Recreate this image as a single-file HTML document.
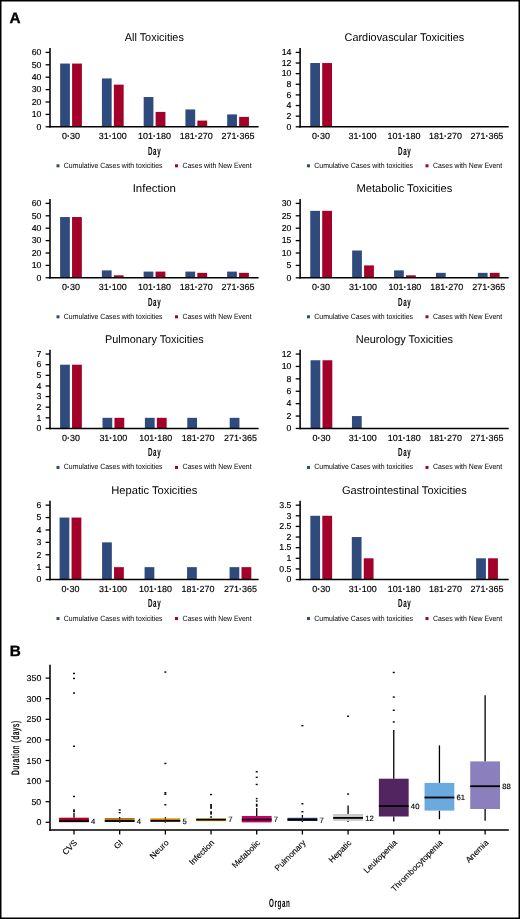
<!DOCTYPE html>
<html><head><meta charset="utf-8"><style>
html,body{margin:0;padding:0;background:#fff;}
body{width:520px;height:919px;overflow:hidden;}
svg{display:block;font-family:"Liberation Sans", sans-serif;will-change:transform;text-rendering:geometricPrecision;}
</style></head><body>
<svg width="520" height="919" viewBox="0 0 520 919">
<rect x="0" y="0" width="520" height="919" fill="#fff"/>
<text transform="translate(154.30,41.00) scale(0.974,1)" font-size="11.2" text-anchor="middle" font-weight="normal" fill="#000" >All Toxicities</text>
<rect x="60.15" y="63.56" width="9.75" height="63.24" fill="#2f4a7c"/>
<rect x="72.10" y="63.56" width="9.80" height="63.24" fill="#a3002a"/>
<text transform="translate(71.00,139.00) scale(1.010,1)" font-size="8.9" text-anchor="middle" font-weight="normal" fill="#000" stroke="#000" stroke-width="0.15">0<tspan font-weight="bold">&#183;</tspan>30</text>
<rect x="101.91" y="78.44" width="9.75" height="48.36" fill="#2f4a7c"/>
<rect x="113.86" y="84.64" width="9.80" height="42.16" fill="#a3002a"/>
<text transform="translate(112.76,139.00) scale(1.010,1)" font-size="8.9" text-anchor="middle" font-weight="normal" fill="#000" stroke="#000" stroke-width="0.15">31<tspan font-weight="bold">&#183;</tspan>100</text>
<rect x="143.67" y="97.04" width="9.75" height="29.76" fill="#2f4a7c"/>
<rect x="155.62" y="111.92" width="9.80" height="14.88" fill="#a3002a"/>
<text transform="translate(154.52,139.00) scale(1.010,1)" font-size="8.9" text-anchor="middle" font-weight="normal" fill="#000" stroke="#000" stroke-width="0.15">101<tspan font-weight="bold">&#183;</tspan>180</text>
<rect x="185.43" y="109.44" width="9.75" height="17.36" fill="#2f4a7c"/>
<rect x="197.38" y="120.60" width="9.80" height="6.20" fill="#a3002a"/>
<text transform="translate(196.28,139.00) scale(1.010,1)" font-size="8.9" text-anchor="middle" font-weight="normal" fill="#000" stroke="#000" stroke-width="0.15">181<tspan font-weight="bold">&#183;</tspan>270</text>
<rect x="227.19" y="114.40" width="9.75" height="12.40" fill="#2f4a7c"/>
<rect x="239.14" y="116.88" width="9.80" height="9.92" fill="#a3002a"/>
<text transform="translate(238.04,139.00) scale(1.010,1)" font-size="8.9" text-anchor="middle" font-weight="normal" fill="#000" stroke="#000" stroke-width="0.15">271<tspan font-weight="bold">&#183;</tspan>365</text>
<line x1="50.00" y1="48.00" x2="50.00" y2="127.58" stroke="#000" stroke-width="1.55"/>
<line x1="49.23" y1="126.80" x2="258.60" y2="126.80" stroke="#000" stroke-width="1.55"/>
<line x1="45.60" y1="126.80" x2="50.00" y2="126.80" stroke="#000" stroke-width="1.3"/>
<text transform="translate(41.40,129.60) scale(1.020,1)" font-size="8.6" text-anchor="end" font-weight="normal" fill="#000" stroke="#000" stroke-width="0.15">0</text>
<line x1="45.60" y1="114.40" x2="50.00" y2="114.40" stroke="#000" stroke-width="1.3"/>
<text transform="translate(41.40,117.20) scale(1.020,1)" font-size="8.6" text-anchor="end" font-weight="normal" fill="#000" stroke="#000" stroke-width="0.15">10</text>
<line x1="45.60" y1="102.00" x2="50.00" y2="102.00" stroke="#000" stroke-width="1.3"/>
<text transform="translate(41.40,104.80) scale(1.020,1)" font-size="8.6" text-anchor="end" font-weight="normal" fill="#000" stroke="#000" stroke-width="0.15">20</text>
<line x1="45.60" y1="89.60" x2="50.00" y2="89.60" stroke="#000" stroke-width="1.3"/>
<text transform="translate(41.40,92.40) scale(1.020,1)" font-size="8.6" text-anchor="end" font-weight="normal" fill="#000" stroke="#000" stroke-width="0.15">30</text>
<line x1="45.60" y1="77.20" x2="50.00" y2="77.20" stroke="#000" stroke-width="1.3"/>
<text transform="translate(41.40,80.00) scale(1.020,1)" font-size="8.6" text-anchor="end" font-weight="normal" fill="#000" stroke="#000" stroke-width="0.15">40</text>
<line x1="45.60" y1="64.80" x2="50.00" y2="64.80" stroke="#000" stroke-width="1.3"/>
<text transform="translate(41.40,67.60) scale(1.020,1)" font-size="8.6" text-anchor="end" font-weight="normal" fill="#000" stroke="#000" stroke-width="0.15">50</text>
<line x1="45.60" y1="52.40" x2="50.00" y2="52.40" stroke="#000" stroke-width="1.3"/>
<text transform="translate(41.40,55.20) scale(1.020,1)" font-size="8.6" text-anchor="end" font-weight="normal" fill="#000" stroke="#000" stroke-width="0.15">60</text>
<text transform="translate(154.60,154.60) scale(0.530,1)" font-size="11.8" text-anchor="middle" font-weight="bold" fill="#000" letter-spacing="1.1">Day</text>
<rect x="56.50" y="164.30" width="3.00" height="3.00" fill="#2f4a7c"/>
<text transform="translate(63.80,167.80) scale(0.910,1)" font-size="7.6" text-anchor="start" font-weight="normal" fill="#000" >Cumulative Cases with toxicities</text>
<rect x="175.00" y="164.30" width="3.00" height="3.00" fill="#a3002a"/>
<text transform="translate(182.50,167.80) scale(0.910,1)" font-size="7.6" text-anchor="start" font-weight="normal" fill="#000" >Cases with New Event</text>
<text transform="translate(404.40,41.00) scale(0.974,1)" font-size="11.2" text-anchor="middle" font-weight="normal" fill="#000" >Cardiovascular Toxicities</text>
<rect x="310.25" y="63.03" width="9.75" height="63.77" fill="#2f4a7c"/>
<rect x="322.20" y="63.03" width="9.80" height="63.77" fill="#a3002a"/>
<text transform="translate(321.10,139.00) scale(1.010,1)" font-size="8.9" text-anchor="middle" font-weight="normal" fill="#000" stroke="#000" stroke-width="0.15">0<tspan font-weight="bold">&#183;</tspan>30</text>
<text transform="translate(362.55,139.00) scale(1.010,1)" font-size="8.9" text-anchor="middle" font-weight="normal" fill="#000" stroke="#000" stroke-width="0.15">31<tspan font-weight="bold">&#183;</tspan>100</text>
<text transform="translate(404.00,139.00) scale(1.010,1)" font-size="8.9" text-anchor="middle" font-weight="normal" fill="#000" stroke="#000" stroke-width="0.15">101<tspan font-weight="bold">&#183;</tspan>180</text>
<text transform="translate(445.45,139.00) scale(1.010,1)" font-size="8.9" text-anchor="middle" font-weight="normal" fill="#000" stroke="#000" stroke-width="0.15">181<tspan font-weight="bold">&#183;</tspan>270</text>
<text transform="translate(486.90,139.00) scale(1.010,1)" font-size="8.9" text-anchor="middle" font-weight="normal" fill="#000" stroke="#000" stroke-width="0.15">271<tspan font-weight="bold">&#183;</tspan>365</text>
<line x1="300.10" y1="48.00" x2="300.10" y2="127.58" stroke="#000" stroke-width="1.55"/>
<line x1="299.33" y1="126.80" x2="508.70" y2="126.80" stroke="#000" stroke-width="1.55"/>
<line x1="295.70" y1="126.80" x2="300.10" y2="126.80" stroke="#000" stroke-width="1.3"/>
<text transform="translate(291.50,129.60) scale(1.020,1)" font-size="8.6" text-anchor="end" font-weight="normal" fill="#000" stroke="#000" stroke-width="0.15">0</text>
<line x1="295.70" y1="116.17" x2="300.10" y2="116.17" stroke="#000" stroke-width="1.3"/>
<text transform="translate(291.50,118.97) scale(1.020,1)" font-size="8.6" text-anchor="end" font-weight="normal" fill="#000" stroke="#000" stroke-width="0.15">2</text>
<line x1="295.70" y1="105.54" x2="300.10" y2="105.54" stroke="#000" stroke-width="1.3"/>
<text transform="translate(291.50,108.34) scale(1.020,1)" font-size="8.6" text-anchor="end" font-weight="normal" fill="#000" stroke="#000" stroke-width="0.15">4</text>
<line x1="295.70" y1="94.91" x2="300.10" y2="94.91" stroke="#000" stroke-width="1.3"/>
<text transform="translate(291.50,97.71) scale(1.020,1)" font-size="8.6" text-anchor="end" font-weight="normal" fill="#000" stroke="#000" stroke-width="0.15">6</text>
<line x1="295.70" y1="84.29" x2="300.10" y2="84.29" stroke="#000" stroke-width="1.3"/>
<text transform="translate(291.50,87.09) scale(1.020,1)" font-size="8.6" text-anchor="end" font-weight="normal" fill="#000" stroke="#000" stroke-width="0.15">8</text>
<line x1="295.70" y1="73.66" x2="300.10" y2="73.66" stroke="#000" stroke-width="1.3"/>
<text transform="translate(291.50,76.46) scale(1.020,1)" font-size="8.6" text-anchor="end" font-weight="normal" fill="#000" stroke="#000" stroke-width="0.15">10</text>
<line x1="295.70" y1="63.03" x2="300.10" y2="63.03" stroke="#000" stroke-width="1.3"/>
<text transform="translate(291.50,65.83) scale(1.020,1)" font-size="8.6" text-anchor="end" font-weight="normal" fill="#000" stroke="#000" stroke-width="0.15">12</text>
<line x1="295.70" y1="52.40" x2="300.10" y2="52.40" stroke="#000" stroke-width="1.3"/>
<text transform="translate(291.50,55.20) scale(1.020,1)" font-size="8.6" text-anchor="end" font-weight="normal" fill="#000" stroke="#000" stroke-width="0.15">14</text>
<text transform="translate(404.70,154.60) scale(0.530,1)" font-size="11.8" text-anchor="middle" font-weight="bold" fill="#000" letter-spacing="1.1">Day</text>
<rect x="307.00" y="164.30" width="3.00" height="3.00" fill="#2f4a7c"/>
<text transform="translate(314.30,167.80) scale(0.910,1)" font-size="7.6" text-anchor="start" font-weight="normal" fill="#000" >Cumulative Cases with toxicities</text>
<rect x="425.50" y="164.30" width="3.00" height="3.00" fill="#a3002a"/>
<text transform="translate(433.00,167.80) scale(0.910,1)" font-size="7.6" text-anchor="start" font-weight="normal" fill="#000" >Cases with New Event</text>
<text transform="translate(154.30,192.00) scale(1.022,1)" font-size="11.2" text-anchor="middle" font-weight="normal" fill="#000" >Infection</text>
<rect x="60.10" y="217.04" width="9.75" height="60.76" fill="#2f4a7c"/>
<rect x="72.05" y="217.04" width="9.80" height="60.76" fill="#a3002a"/>
<text transform="translate(70.95,290.00) scale(1.010,1)" font-size="8.9" text-anchor="middle" font-weight="normal" fill="#000" stroke="#000" stroke-width="0.15">0<tspan font-weight="bold">&#183;</tspan>30</text>
<rect x="101.86" y="270.36" width="9.75" height="7.44" fill="#2f4a7c"/>
<rect x="113.81" y="275.32" width="9.80" height="2.48" fill="#a3002a"/>
<text transform="translate(112.71,290.00) scale(1.010,1)" font-size="8.9" text-anchor="middle" font-weight="normal" fill="#000" stroke="#000" stroke-width="0.15">31<tspan font-weight="bold">&#183;</tspan>100</text>
<rect x="143.62" y="271.60" width="9.75" height="6.20" fill="#2f4a7c"/>
<rect x="155.57" y="271.60" width="9.80" height="6.20" fill="#a3002a"/>
<text transform="translate(154.47,290.00) scale(1.010,1)" font-size="8.9" text-anchor="middle" font-weight="normal" fill="#000" stroke="#000" stroke-width="0.15">101<tspan font-weight="bold">&#183;</tspan>180</text>
<rect x="185.38" y="271.60" width="9.75" height="6.20" fill="#2f4a7c"/>
<rect x="197.33" y="272.84" width="9.80" height="4.96" fill="#a3002a"/>
<text transform="translate(196.23,290.00) scale(1.010,1)" font-size="8.9" text-anchor="middle" font-weight="normal" fill="#000" stroke="#000" stroke-width="0.15">181<tspan font-weight="bold">&#183;</tspan>270</text>
<rect x="227.14" y="271.60" width="9.75" height="6.20" fill="#2f4a7c"/>
<rect x="239.09" y="272.84" width="9.80" height="4.96" fill="#a3002a"/>
<text transform="translate(237.99,290.00) scale(1.010,1)" font-size="8.9" text-anchor="middle" font-weight="normal" fill="#000" stroke="#000" stroke-width="0.15">271<tspan font-weight="bold">&#183;</tspan>365</text>
<line x1="50.00" y1="199.00" x2="50.00" y2="278.57" stroke="#000" stroke-width="1.55"/>
<line x1="49.23" y1="277.80" x2="258.60" y2="277.80" stroke="#000" stroke-width="1.55"/>
<line x1="45.60" y1="277.80" x2="50.00" y2="277.80" stroke="#000" stroke-width="1.3"/>
<text transform="translate(41.40,280.60) scale(1.020,1)" font-size="8.6" text-anchor="end" font-weight="normal" fill="#000" stroke="#000" stroke-width="0.15">0</text>
<line x1="45.60" y1="265.40" x2="50.00" y2="265.40" stroke="#000" stroke-width="1.3"/>
<text transform="translate(41.40,268.20) scale(1.020,1)" font-size="8.6" text-anchor="end" font-weight="normal" fill="#000" stroke="#000" stroke-width="0.15">10</text>
<line x1="45.60" y1="253.00" x2="50.00" y2="253.00" stroke="#000" stroke-width="1.3"/>
<text transform="translate(41.40,255.80) scale(1.020,1)" font-size="8.6" text-anchor="end" font-weight="normal" fill="#000" stroke="#000" stroke-width="0.15">20</text>
<line x1="45.60" y1="240.60" x2="50.00" y2="240.60" stroke="#000" stroke-width="1.3"/>
<text transform="translate(41.40,243.40) scale(1.020,1)" font-size="8.6" text-anchor="end" font-weight="normal" fill="#000" stroke="#000" stroke-width="0.15">30</text>
<line x1="45.60" y1="228.20" x2="50.00" y2="228.20" stroke="#000" stroke-width="1.3"/>
<text transform="translate(41.40,231.00) scale(1.020,1)" font-size="8.6" text-anchor="end" font-weight="normal" fill="#000" stroke="#000" stroke-width="0.15">40</text>
<line x1="45.60" y1="215.80" x2="50.00" y2="215.80" stroke="#000" stroke-width="1.3"/>
<text transform="translate(41.40,218.60) scale(1.020,1)" font-size="8.6" text-anchor="end" font-weight="normal" fill="#000" stroke="#000" stroke-width="0.15">50</text>
<line x1="45.60" y1="203.40" x2="50.00" y2="203.40" stroke="#000" stroke-width="1.3"/>
<text transform="translate(41.40,206.20) scale(1.020,1)" font-size="8.6" text-anchor="end" font-weight="normal" fill="#000" stroke="#000" stroke-width="0.15">60</text>
<text transform="translate(154.60,305.60) scale(0.530,1)" font-size="11.8" text-anchor="middle" font-weight="bold" fill="#000" letter-spacing="1.1">Day</text>
<rect x="56.50" y="315.30" width="3.00" height="3.00" fill="#2f4a7c"/>
<text transform="translate(63.80,318.80) scale(0.910,1)" font-size="7.6" text-anchor="start" font-weight="normal" fill="#000" >Cumulative Cases with toxicities</text>
<rect x="175.00" y="315.30" width="3.00" height="3.00" fill="#a3002a"/>
<text transform="translate(182.50,318.80) scale(0.910,1)" font-size="7.6" text-anchor="start" font-weight="normal" fill="#000" >Cases with New Event</text>
<text transform="translate(404.40,192.00) scale(0.996,1)" font-size="11.2" text-anchor="middle" font-weight="normal" fill="#000" >Metabolic Toxicities</text>
<rect x="310.25" y="210.84" width="9.75" height="66.96" fill="#2f4a7c"/>
<rect x="322.20" y="210.84" width="9.80" height="66.96" fill="#a3002a"/>
<text transform="translate(321.10,290.00) scale(1.010,1)" font-size="8.9" text-anchor="middle" font-weight="normal" fill="#000" stroke="#000" stroke-width="0.15">0<tspan font-weight="bold">&#183;</tspan>30</text>
<rect x="352.15" y="250.52" width="9.75" height="27.28" fill="#2f4a7c"/>
<rect x="364.10" y="265.40" width="9.80" height="12.40" fill="#a3002a"/>
<text transform="translate(363.00,290.00) scale(1.010,1)" font-size="8.9" text-anchor="middle" font-weight="normal" fill="#000" stroke="#000" stroke-width="0.15">31<tspan font-weight="bold">&#183;</tspan>100</text>
<rect x="394.05" y="270.36" width="9.75" height="7.44" fill="#2f4a7c"/>
<rect x="406.00" y="275.32" width="9.80" height="2.48" fill="#a3002a"/>
<text transform="translate(404.90,290.00) scale(1.010,1)" font-size="8.9" text-anchor="middle" font-weight="normal" fill="#000" stroke="#000" stroke-width="0.15">101<tspan font-weight="bold">&#183;</tspan>180</text>
<rect x="435.95" y="272.84" width="9.75" height="4.96" fill="#2f4a7c"/>
<text transform="translate(446.80,290.00) scale(1.010,1)" font-size="8.9" text-anchor="middle" font-weight="normal" fill="#000" stroke="#000" stroke-width="0.15">181<tspan font-weight="bold">&#183;</tspan>270</text>
<rect x="477.85" y="272.84" width="9.75" height="4.96" fill="#2f4a7c"/>
<rect x="489.80" y="272.84" width="9.80" height="4.96" fill="#a3002a"/>
<text transform="translate(488.70,290.00) scale(1.010,1)" font-size="8.9" text-anchor="middle" font-weight="normal" fill="#000" stroke="#000" stroke-width="0.15">271<tspan font-weight="bold">&#183;</tspan>365</text>
<line x1="300.10" y1="199.00" x2="300.10" y2="278.57" stroke="#000" stroke-width="1.55"/>
<line x1="299.33" y1="277.80" x2="508.70" y2="277.80" stroke="#000" stroke-width="1.55"/>
<line x1="295.70" y1="277.80" x2="300.10" y2="277.80" stroke="#000" stroke-width="1.3"/>
<text transform="translate(291.50,280.60) scale(1.020,1)" font-size="8.6" text-anchor="end" font-weight="normal" fill="#000" stroke="#000" stroke-width="0.15">0</text>
<line x1="295.70" y1="265.40" x2="300.10" y2="265.40" stroke="#000" stroke-width="1.3"/>
<text transform="translate(291.50,268.20) scale(1.020,1)" font-size="8.6" text-anchor="end" font-weight="normal" fill="#000" stroke="#000" stroke-width="0.15">5</text>
<line x1="295.70" y1="253.00" x2="300.10" y2="253.00" stroke="#000" stroke-width="1.3"/>
<text transform="translate(291.50,255.80) scale(1.020,1)" font-size="8.6" text-anchor="end" font-weight="normal" fill="#000" stroke="#000" stroke-width="0.15">10</text>
<line x1="295.70" y1="240.60" x2="300.10" y2="240.60" stroke="#000" stroke-width="1.3"/>
<text transform="translate(291.50,243.40) scale(1.020,1)" font-size="8.6" text-anchor="end" font-weight="normal" fill="#000" stroke="#000" stroke-width="0.15">15</text>
<line x1="295.70" y1="228.20" x2="300.10" y2="228.20" stroke="#000" stroke-width="1.3"/>
<text transform="translate(291.50,231.00) scale(1.020,1)" font-size="8.6" text-anchor="end" font-weight="normal" fill="#000" stroke="#000" stroke-width="0.15">20</text>
<line x1="295.70" y1="215.80" x2="300.10" y2="215.80" stroke="#000" stroke-width="1.3"/>
<text transform="translate(291.50,218.60) scale(1.020,1)" font-size="8.6" text-anchor="end" font-weight="normal" fill="#000" stroke="#000" stroke-width="0.15">25</text>
<line x1="295.70" y1="203.40" x2="300.10" y2="203.40" stroke="#000" stroke-width="1.3"/>
<text transform="translate(291.50,206.20) scale(1.020,1)" font-size="8.6" text-anchor="end" font-weight="normal" fill="#000" stroke="#000" stroke-width="0.15">30</text>
<text transform="translate(404.70,305.60) scale(0.530,1)" font-size="11.8" text-anchor="middle" font-weight="bold" fill="#000" letter-spacing="1.1">Day</text>
<rect x="307.00" y="315.30" width="3.00" height="3.00" fill="#2f4a7c"/>
<text transform="translate(314.30,318.80) scale(0.910,1)" font-size="7.6" text-anchor="start" font-weight="normal" fill="#000" >Cumulative Cases with toxicities</text>
<rect x="425.50" y="315.30" width="3.00" height="3.00" fill="#a3002a"/>
<text transform="translate(433.00,318.80) scale(0.910,1)" font-size="7.6" text-anchor="start" font-weight="normal" fill="#000" >Cases with New Event</text>
<text transform="translate(154.30,342.65) scale(0.970,1)" font-size="11.2" text-anchor="middle" font-weight="normal" fill="#000" >Pulmonary Toxicities</text>
<rect x="60.10" y="364.68" width="9.75" height="63.77" fill="#2f4a7c"/>
<rect x="72.05" y="364.68" width="9.80" height="63.77" fill="#a3002a"/>
<text transform="translate(70.95,440.65) scale(1.010,1)" font-size="8.9" text-anchor="middle" font-weight="normal" fill="#000" stroke="#000" stroke-width="0.15">0<tspan font-weight="bold">&#183;</tspan>30</text>
<rect x="102.50" y="417.82" width="9.75" height="10.63" fill="#2f4a7c"/>
<rect x="114.45" y="417.82" width="9.80" height="10.63" fill="#a3002a"/>
<text transform="translate(113.35,440.65) scale(1.010,1)" font-size="8.9" text-anchor="middle" font-weight="normal" fill="#000" stroke="#000" stroke-width="0.15">31<tspan font-weight="bold">&#183;</tspan>100</text>
<rect x="144.90" y="417.82" width="9.75" height="10.63" fill="#2f4a7c"/>
<rect x="156.85" y="417.82" width="9.80" height="10.63" fill="#a3002a"/>
<text transform="translate(155.75,440.65) scale(1.010,1)" font-size="8.9" text-anchor="middle" font-weight="normal" fill="#000" stroke="#000" stroke-width="0.15">101<tspan font-weight="bold">&#183;</tspan>180</text>
<rect x="187.30" y="417.82" width="9.75" height="10.63" fill="#2f4a7c"/>
<text transform="translate(198.15,440.65) scale(1.010,1)" font-size="8.9" text-anchor="middle" font-weight="normal" fill="#000" stroke="#000" stroke-width="0.15">181<tspan font-weight="bold">&#183;</tspan>270</text>
<rect x="229.70" y="417.82" width="9.75" height="10.63" fill="#2f4a7c"/>
<text transform="translate(240.55,440.65) scale(1.010,1)" font-size="8.9" text-anchor="middle" font-weight="normal" fill="#000" stroke="#000" stroke-width="0.15">271<tspan font-weight="bold">&#183;</tspan>365</text>
<line x1="50.00" y1="349.65" x2="50.00" y2="429.22" stroke="#000" stroke-width="1.55"/>
<line x1="49.23" y1="428.45" x2="258.60" y2="428.45" stroke="#000" stroke-width="1.55"/>
<line x1="45.60" y1="428.45" x2="50.00" y2="428.45" stroke="#000" stroke-width="1.3"/>
<text transform="translate(41.40,431.25) scale(1.020,1)" font-size="8.6" text-anchor="end" font-weight="normal" fill="#000" stroke="#000" stroke-width="0.15">0</text>
<line x1="45.60" y1="417.82" x2="50.00" y2="417.82" stroke="#000" stroke-width="1.3"/>
<text transform="translate(41.40,420.62) scale(1.020,1)" font-size="8.6" text-anchor="end" font-weight="normal" fill="#000" stroke="#000" stroke-width="0.15">1</text>
<line x1="45.60" y1="407.19" x2="50.00" y2="407.19" stroke="#000" stroke-width="1.3"/>
<text transform="translate(41.40,409.99) scale(1.020,1)" font-size="8.6" text-anchor="end" font-weight="normal" fill="#000" stroke="#000" stroke-width="0.15">2</text>
<line x1="45.60" y1="396.56" x2="50.00" y2="396.56" stroke="#000" stroke-width="1.3"/>
<text transform="translate(41.40,399.36) scale(1.020,1)" font-size="8.6" text-anchor="end" font-weight="normal" fill="#000" stroke="#000" stroke-width="0.15">3</text>
<line x1="45.60" y1="385.94" x2="50.00" y2="385.94" stroke="#000" stroke-width="1.3"/>
<text transform="translate(41.40,388.74) scale(1.020,1)" font-size="8.6" text-anchor="end" font-weight="normal" fill="#000" stroke="#000" stroke-width="0.15">4</text>
<line x1="45.60" y1="375.31" x2="50.00" y2="375.31" stroke="#000" stroke-width="1.3"/>
<text transform="translate(41.40,378.11) scale(1.020,1)" font-size="8.6" text-anchor="end" font-weight="normal" fill="#000" stroke="#000" stroke-width="0.15">5</text>
<line x1="45.60" y1="364.68" x2="50.00" y2="364.68" stroke="#000" stroke-width="1.3"/>
<text transform="translate(41.40,367.48) scale(1.020,1)" font-size="8.6" text-anchor="end" font-weight="normal" fill="#000" stroke="#000" stroke-width="0.15">6</text>
<line x1="45.60" y1="354.05" x2="50.00" y2="354.05" stroke="#000" stroke-width="1.3"/>
<text transform="translate(41.40,356.85) scale(1.020,1)" font-size="8.6" text-anchor="end" font-weight="normal" fill="#000" stroke="#000" stroke-width="0.15">7</text>
<text transform="translate(154.60,456.25) scale(0.530,1)" font-size="11.8" text-anchor="middle" font-weight="bold" fill="#000" letter-spacing="1.1">Day</text>
<rect x="56.50" y="465.95" width="3.00" height="3.00" fill="#2f4a7c"/>
<text transform="translate(63.80,469.45) scale(0.910,1)" font-size="7.6" text-anchor="start" font-weight="normal" fill="#000" >Cumulative Cases with toxicities</text>
<rect x="175.00" y="465.95" width="3.00" height="3.00" fill="#a3002a"/>
<text transform="translate(182.50,469.45) scale(0.910,1)" font-size="7.6" text-anchor="start" font-weight="normal" fill="#000" >Cases with New Event</text>
<text transform="translate(404.40,342.65) scale(0.980,1)" font-size="11.2" text-anchor="middle" font-weight="normal" fill="#000" >Neurology Toxicities</text>
<rect x="310.55" y="360.25" width="9.75" height="68.20" fill="#2f4a7c"/>
<rect x="322.50" y="360.25" width="9.80" height="68.20" fill="#a3002a"/>
<text transform="translate(321.40,440.65) scale(1.010,1)" font-size="8.9" text-anchor="middle" font-weight="normal" fill="#000" stroke="#000" stroke-width="0.15">0<tspan font-weight="bold">&#183;</tspan>30</text>
<rect x="351.95" y="416.05" width="9.75" height="12.40" fill="#2f4a7c"/>
<text transform="translate(362.80,440.65) scale(1.010,1)" font-size="8.9" text-anchor="middle" font-weight="normal" fill="#000" stroke="#000" stroke-width="0.15">31<tspan font-weight="bold">&#183;</tspan>100</text>
<text transform="translate(404.20,440.65) scale(1.010,1)" font-size="8.9" text-anchor="middle" font-weight="normal" fill="#000" stroke="#000" stroke-width="0.15">101<tspan font-weight="bold">&#183;</tspan>180</text>
<text transform="translate(445.60,440.65) scale(1.010,1)" font-size="8.9" text-anchor="middle" font-weight="normal" fill="#000" stroke="#000" stroke-width="0.15">181<tspan font-weight="bold">&#183;</tspan>270</text>
<text transform="translate(487.00,440.65) scale(1.010,1)" font-size="8.9" text-anchor="middle" font-weight="normal" fill="#000" stroke="#000" stroke-width="0.15">271<tspan font-weight="bold">&#183;</tspan>365</text>
<line x1="300.10" y1="349.65" x2="300.10" y2="429.22" stroke="#000" stroke-width="1.55"/>
<line x1="299.33" y1="428.45" x2="508.70" y2="428.45" stroke="#000" stroke-width="1.55"/>
<line x1="295.70" y1="428.45" x2="300.10" y2="428.45" stroke="#000" stroke-width="1.3"/>
<text transform="translate(291.50,431.25) scale(1.020,1)" font-size="8.6" text-anchor="end" font-weight="normal" fill="#000" stroke="#000" stroke-width="0.15">0</text>
<line x1="295.70" y1="416.05" x2="300.10" y2="416.05" stroke="#000" stroke-width="1.3"/>
<text transform="translate(291.50,418.85) scale(1.020,1)" font-size="8.6" text-anchor="end" font-weight="normal" fill="#000" stroke="#000" stroke-width="0.15">2</text>
<line x1="295.70" y1="403.65" x2="300.10" y2="403.65" stroke="#000" stroke-width="1.3"/>
<text transform="translate(291.50,406.45) scale(1.020,1)" font-size="8.6" text-anchor="end" font-weight="normal" fill="#000" stroke="#000" stroke-width="0.15">4</text>
<line x1="295.70" y1="391.25" x2="300.10" y2="391.25" stroke="#000" stroke-width="1.3"/>
<text transform="translate(291.50,394.05) scale(1.020,1)" font-size="8.6" text-anchor="end" font-weight="normal" fill="#000" stroke="#000" stroke-width="0.15">6</text>
<line x1="295.70" y1="378.85" x2="300.10" y2="378.85" stroke="#000" stroke-width="1.3"/>
<text transform="translate(291.50,381.65) scale(1.020,1)" font-size="8.6" text-anchor="end" font-weight="normal" fill="#000" stroke="#000" stroke-width="0.15">8</text>
<line x1="295.70" y1="366.45" x2="300.10" y2="366.45" stroke="#000" stroke-width="1.3"/>
<text transform="translate(291.50,369.25) scale(1.020,1)" font-size="8.6" text-anchor="end" font-weight="normal" fill="#000" stroke="#000" stroke-width="0.15">10</text>
<line x1="295.70" y1="354.05" x2="300.10" y2="354.05" stroke="#000" stroke-width="1.3"/>
<text transform="translate(291.50,356.85) scale(1.020,1)" font-size="8.6" text-anchor="end" font-weight="normal" fill="#000" stroke="#000" stroke-width="0.15">12</text>
<text transform="translate(404.70,456.25) scale(0.530,1)" font-size="11.8" text-anchor="middle" font-weight="bold" fill="#000" letter-spacing="1.1">Day</text>
<rect x="307.00" y="465.95" width="3.00" height="3.00" fill="#2f4a7c"/>
<text transform="translate(314.30,469.45) scale(0.910,1)" font-size="7.6" text-anchor="start" font-weight="normal" fill="#000" >Cumulative Cases with toxicities</text>
<rect x="425.50" y="465.95" width="3.00" height="3.00" fill="#a3002a"/>
<text transform="translate(433.00,469.45) scale(0.910,1)" font-size="7.6" text-anchor="start" font-weight="normal" fill="#000" >Cases with New Event</text>
<text transform="translate(154.30,493.75) scale(0.997,1)" font-size="11.2" text-anchor="middle" font-weight="normal" fill="#000" >Hepatic Toxicities</text>
<rect x="59.60" y="517.55" width="9.75" height="62.00" fill="#2f4a7c"/>
<rect x="71.55" y="517.55" width="9.80" height="62.00" fill="#a3002a"/>
<text transform="translate(70.45,591.75) scale(1.010,1)" font-size="8.9" text-anchor="middle" font-weight="normal" fill="#000" stroke="#000" stroke-width="0.15">0<tspan font-weight="bold">&#183;</tspan>30</text>
<rect x="102.09" y="542.35" width="9.75" height="37.20" fill="#2f4a7c"/>
<rect x="114.04" y="567.15" width="9.80" height="12.40" fill="#a3002a"/>
<text transform="translate(112.94,591.75) scale(1.010,1)" font-size="8.9" text-anchor="middle" font-weight="normal" fill="#000" stroke="#000" stroke-width="0.15">31<tspan font-weight="bold">&#183;</tspan>100</text>
<rect x="144.58" y="567.15" width="9.75" height="12.40" fill="#2f4a7c"/>
<text transform="translate(155.43,591.75) scale(1.010,1)" font-size="8.9" text-anchor="middle" font-weight="normal" fill="#000" stroke="#000" stroke-width="0.15">101<tspan font-weight="bold">&#183;</tspan>180</text>
<rect x="187.07" y="567.15" width="9.75" height="12.40" fill="#2f4a7c"/>
<text transform="translate(197.92,591.75) scale(1.010,1)" font-size="8.9" text-anchor="middle" font-weight="normal" fill="#000" stroke="#000" stroke-width="0.15">181<tspan font-weight="bold">&#183;</tspan>270</text>
<rect x="229.56" y="567.15" width="9.75" height="12.40" fill="#2f4a7c"/>
<rect x="241.51" y="567.15" width="9.80" height="12.40" fill="#a3002a"/>
<text transform="translate(240.41,591.75) scale(1.010,1)" font-size="8.9" text-anchor="middle" font-weight="normal" fill="#000" stroke="#000" stroke-width="0.15">271<tspan font-weight="bold">&#183;</tspan>365</text>
<line x1="50.00" y1="500.75" x2="50.00" y2="580.32" stroke="#000" stroke-width="1.55"/>
<line x1="49.23" y1="579.55" x2="258.60" y2="579.55" stroke="#000" stroke-width="1.55"/>
<line x1="45.60" y1="579.55" x2="50.00" y2="579.55" stroke="#000" stroke-width="1.3"/>
<text transform="translate(41.40,582.35) scale(1.020,1)" font-size="8.6" text-anchor="end" font-weight="normal" fill="#000" stroke="#000" stroke-width="0.15">0</text>
<line x1="45.60" y1="567.15" x2="50.00" y2="567.15" stroke="#000" stroke-width="1.3"/>
<text transform="translate(41.40,569.95) scale(1.020,1)" font-size="8.6" text-anchor="end" font-weight="normal" fill="#000" stroke="#000" stroke-width="0.15">1</text>
<line x1="45.60" y1="554.75" x2="50.00" y2="554.75" stroke="#000" stroke-width="1.3"/>
<text transform="translate(41.40,557.55) scale(1.020,1)" font-size="8.6" text-anchor="end" font-weight="normal" fill="#000" stroke="#000" stroke-width="0.15">2</text>
<line x1="45.60" y1="542.35" x2="50.00" y2="542.35" stroke="#000" stroke-width="1.3"/>
<text transform="translate(41.40,545.15) scale(1.020,1)" font-size="8.6" text-anchor="end" font-weight="normal" fill="#000" stroke="#000" stroke-width="0.15">3</text>
<line x1="45.60" y1="529.95" x2="50.00" y2="529.95" stroke="#000" stroke-width="1.3"/>
<text transform="translate(41.40,532.75) scale(1.020,1)" font-size="8.6" text-anchor="end" font-weight="normal" fill="#000" stroke="#000" stroke-width="0.15">4</text>
<line x1="45.60" y1="517.55" x2="50.00" y2="517.55" stroke="#000" stroke-width="1.3"/>
<text transform="translate(41.40,520.35) scale(1.020,1)" font-size="8.6" text-anchor="end" font-weight="normal" fill="#000" stroke="#000" stroke-width="0.15">5</text>
<line x1="45.60" y1="505.15" x2="50.00" y2="505.15" stroke="#000" stroke-width="1.3"/>
<text transform="translate(41.40,507.95) scale(1.020,1)" font-size="8.6" text-anchor="end" font-weight="normal" fill="#000" stroke="#000" stroke-width="0.15">6</text>
<text transform="translate(154.60,607.35) scale(0.530,1)" font-size="11.8" text-anchor="middle" font-weight="bold" fill="#000" letter-spacing="1.1">Day</text>
<rect x="56.50" y="617.05" width="3.00" height="3.00" fill="#2f4a7c"/>
<text transform="translate(63.80,620.55) scale(0.910,1)" font-size="7.6" text-anchor="start" font-weight="normal" fill="#000" >Cumulative Cases with toxicities</text>
<rect x="175.00" y="617.05" width="3.00" height="3.00" fill="#a3002a"/>
<text transform="translate(182.50,620.55) scale(0.910,1)" font-size="7.6" text-anchor="start" font-weight="normal" fill="#000" >Cases with New Event</text>
<text transform="translate(404.40,493.75) scale(0.991,1)" font-size="11.2" text-anchor="middle" font-weight="normal" fill="#000" >Gastrointestinal Toxicities</text>
<rect x="310.35" y="515.78" width="9.75" height="63.77" fill="#2f4a7c"/>
<rect x="322.30" y="515.78" width="9.80" height="63.77" fill="#a3002a"/>
<text transform="translate(321.20,591.75) scale(1.010,1)" font-size="8.9" text-anchor="middle" font-weight="normal" fill="#000" stroke="#000" stroke-width="0.15">0<tspan font-weight="bold">&#183;</tspan>30</text>
<rect x="351.80" y="537.04" width="9.75" height="42.51" fill="#2f4a7c"/>
<rect x="363.75" y="558.29" width="9.80" height="21.26" fill="#a3002a"/>
<text transform="translate(362.65,591.75) scale(1.010,1)" font-size="8.9" text-anchor="middle" font-weight="normal" fill="#000" stroke="#000" stroke-width="0.15">31<tspan font-weight="bold">&#183;</tspan>100</text>
<text transform="translate(404.10,591.75) scale(1.010,1)" font-size="8.9" text-anchor="middle" font-weight="normal" fill="#000" stroke="#000" stroke-width="0.15">101<tspan font-weight="bold">&#183;</tspan>180</text>
<text transform="translate(445.55,591.75) scale(1.010,1)" font-size="8.9" text-anchor="middle" font-weight="normal" fill="#000" stroke="#000" stroke-width="0.15">181<tspan font-weight="bold">&#183;</tspan>270</text>
<rect x="476.15" y="558.29" width="9.75" height="21.26" fill="#2f4a7c"/>
<rect x="488.10" y="558.29" width="9.80" height="21.26" fill="#a3002a"/>
<text transform="translate(487.00,591.75) scale(1.010,1)" font-size="8.9" text-anchor="middle" font-weight="normal" fill="#000" stroke="#000" stroke-width="0.15">271<tspan font-weight="bold">&#183;</tspan>365</text>
<line x1="300.10" y1="500.75" x2="300.10" y2="580.32" stroke="#000" stroke-width="1.55"/>
<line x1="299.33" y1="579.55" x2="508.70" y2="579.55" stroke="#000" stroke-width="1.55"/>
<line x1="295.70" y1="579.55" x2="300.10" y2="579.55" stroke="#000" stroke-width="1.3"/>
<text transform="translate(291.50,582.35) scale(1.020,1)" font-size="8.6" text-anchor="end" font-weight="normal" fill="#000" stroke="#000" stroke-width="0.15">0</text>
<line x1="295.70" y1="568.92" x2="300.10" y2="568.92" stroke="#000" stroke-width="1.3"/>
<text transform="translate(291.50,571.72) scale(1.020,1)" font-size="8.6" text-anchor="end" font-weight="normal" fill="#000" stroke="#000" stroke-width="0.15">0.5</text>
<line x1="295.70" y1="558.29" x2="300.10" y2="558.29" stroke="#000" stroke-width="1.3"/>
<text transform="translate(291.50,561.09) scale(1.020,1)" font-size="8.6" text-anchor="end" font-weight="normal" fill="#000" stroke="#000" stroke-width="0.15">1</text>
<line x1="295.70" y1="547.66" x2="300.10" y2="547.66" stroke="#000" stroke-width="1.3"/>
<text transform="translate(291.50,550.46) scale(1.020,1)" font-size="8.6" text-anchor="end" font-weight="normal" fill="#000" stroke="#000" stroke-width="0.15">1.5</text>
<line x1="295.70" y1="537.04" x2="300.10" y2="537.04" stroke="#000" stroke-width="1.3"/>
<text transform="translate(291.50,539.84) scale(1.020,1)" font-size="8.6" text-anchor="end" font-weight="normal" fill="#000" stroke="#000" stroke-width="0.15">2</text>
<line x1="295.70" y1="526.41" x2="300.10" y2="526.41" stroke="#000" stroke-width="1.3"/>
<text transform="translate(291.50,529.21) scale(1.020,1)" font-size="8.6" text-anchor="end" font-weight="normal" fill="#000" stroke="#000" stroke-width="0.15">2.5</text>
<line x1="295.70" y1="515.78" x2="300.10" y2="515.78" stroke="#000" stroke-width="1.3"/>
<text transform="translate(291.50,518.58) scale(1.020,1)" font-size="8.6" text-anchor="end" font-weight="normal" fill="#000" stroke="#000" stroke-width="0.15">3</text>
<line x1="295.70" y1="505.15" x2="300.10" y2="505.15" stroke="#000" stroke-width="1.3"/>
<text transform="translate(291.50,507.95) scale(1.020,1)" font-size="8.6" text-anchor="end" font-weight="normal" fill="#000" stroke="#000" stroke-width="0.15">3.5</text>
<text transform="translate(404.70,607.35) scale(0.530,1)" font-size="11.8" text-anchor="middle" font-weight="bold" fill="#000" letter-spacing="1.1">Day</text>
<rect x="307.00" y="617.05" width="3.00" height="3.00" fill="#2f4a7c"/>
<text transform="translate(314.30,620.55) scale(0.910,1)" font-size="7.6" text-anchor="start" font-weight="normal" fill="#000" >Cumulative Cases with toxicities</text>
<rect x="425.50" y="617.05" width="3.00" height="3.00" fill="#a3002a"/>
<text transform="translate(433.00,620.55) scale(0.910,1)" font-size="7.6" text-anchor="start" font-weight="normal" fill="#000" >Cases with New Event</text>
<text transform="translate(9.50,22.60) scale(1.020,1)" font-size="15.0" text-anchor="start" font-weight="bold" fill="#000" stroke="#000" stroke-width="0.35">A</text>
<text transform="translate(9.80,656.30) scale(1.020,1)" font-size="15.0" text-anchor="start" font-weight="bold" fill="#000" stroke="#000" stroke-width="0.35">B</text>
<line x1="50.00" y1="664.80" x2="50.00" y2="830.77" stroke="#000" stroke-width="1.55"/>
<line x1="49.23" y1="830.00" x2="508.80" y2="830.00" stroke="#000" stroke-width="1.55"/>
<line x1="45.60" y1="822.30" x2="50.00" y2="822.30" stroke="#000" stroke-width="1.25"/>
<text transform="translate(41.30,825.30) scale(1.040,1)" font-size="8.5" text-anchor="end" font-weight="normal" fill="#000" stroke="#000" stroke-width="0.15">0</text>
<line x1="45.60" y1="801.70" x2="50.00" y2="801.70" stroke="#000" stroke-width="1.25"/>
<text transform="translate(41.30,804.70) scale(1.040,1)" font-size="8.5" text-anchor="end" font-weight="normal" fill="#000" stroke="#000" stroke-width="0.15">50</text>
<line x1="45.60" y1="781.10" x2="50.00" y2="781.10" stroke="#000" stroke-width="1.25"/>
<text transform="translate(41.30,784.10) scale(1.040,1)" font-size="8.5" text-anchor="end" font-weight="normal" fill="#000" stroke="#000" stroke-width="0.15">100</text>
<line x1="45.60" y1="760.50" x2="50.00" y2="760.50" stroke="#000" stroke-width="1.25"/>
<text transform="translate(41.30,763.50) scale(1.040,1)" font-size="8.5" text-anchor="end" font-weight="normal" fill="#000" stroke="#000" stroke-width="0.15">150</text>
<line x1="45.60" y1="739.90" x2="50.00" y2="739.90" stroke="#000" stroke-width="1.25"/>
<text transform="translate(41.30,742.90) scale(1.040,1)" font-size="8.5" text-anchor="end" font-weight="normal" fill="#000" stroke="#000" stroke-width="0.15">200</text>
<line x1="45.60" y1="719.30" x2="50.00" y2="719.30" stroke="#000" stroke-width="1.25"/>
<text transform="translate(41.30,722.30) scale(1.040,1)" font-size="8.5" text-anchor="end" font-weight="normal" fill="#000" stroke="#000" stroke-width="0.15">250</text>
<line x1="45.60" y1="698.70" x2="50.00" y2="698.70" stroke="#000" stroke-width="1.25"/>
<text transform="translate(41.30,701.70) scale(1.040,1)" font-size="8.5" text-anchor="end" font-weight="normal" fill="#000" stroke="#000" stroke-width="0.15">300</text>
<line x1="45.60" y1="678.10" x2="50.00" y2="678.10" stroke="#000" stroke-width="1.25"/>
<text transform="translate(41.30,681.10) scale(1.040,1)" font-size="8.5" text-anchor="end" font-weight="normal" fill="#000" stroke="#000" stroke-width="0.15">350</text>
<text transform="translate(19.2,747.6) rotate(-90) scale(0.62,1)" font-size="10.6" stroke="#000" stroke-width="0.32" letter-spacing="1.05" text-anchor="middle" fill="#000">Duration (days)</text>
<text transform="translate(279.70,906.70) scale(0.530,1)" font-size="11.8" text-anchor="middle" font-weight="bold" fill="#000" letter-spacing="1.1">Organ</text>
<line x1="74.00" y1="813.00" x2="74.00" y2="817.70" stroke="#000" stroke-width="1.3"/>
<rect x="59.10" y="817.70" width="29.80" height="4.50" fill="#ab0025"/>
<line x1="59.10" y1="821.10" x2="88.90" y2="821.10" stroke="#000" stroke-width="1.8"/>
<rect x="73.00" y="795.75" width="2.00" height="1.40" fill="#000"/>
<rect x="73.00" y="809.35" width="2.00" height="1.40" fill="#000"/>
<rect x="73.00" y="810.85" width="2.00" height="1.40" fill="#000"/>
<rect x="73.00" y="672.75" width="2.00" height="1.40" fill="#000"/>
<rect x="73.00" y="677.75" width="2.00" height="1.40" fill="#000"/>
<rect x="73.00" y="692.35" width="2.00" height="1.40" fill="#000"/>
<rect x="73.00" y="745.55" width="2.00" height="1.40" fill="#000"/>
<text x="91.10" y="823.80" font-size="7.7" text-anchor="start" font-weight="normal" fill="#000" stroke="#000" stroke-width="0.15">4</text>
<line x1="74.00" y1="830.00" x2="74.00" y2="834.50" stroke="#000" stroke-width="1.3"/>
<text transform="translate(73.70,839.2) rotate(-45)" font-size="8.35" text-anchor="end" dy="5.8" fill="#000" stroke="#000" stroke-width="0.12">CVS</text>
<line x1="119.68" y1="817.00" x2="119.68" y2="818.00" stroke="#000" stroke-width="1.3"/>
<line x1="119.68" y1="822.00" x2="119.68" y2="822.50" stroke="#000" stroke-width="1.3"/>
<rect x="104.78" y="818.00" width="29.80" height="4.00" fill="#b8721f"/>
<line x1="104.78" y1="821.00" x2="134.58" y2="821.00" stroke="#000" stroke-width="1.8"/>
<line x1="119.68" y1="817.50" x2="119.68" y2="822.60" stroke="#333" stroke-width="0.9"/>
<rect x="118.68" y="809.25" width="2.00" height="1.40" fill="#000"/>
<rect x="118.68" y="811.95" width="2.00" height="1.40" fill="#000"/>
<text x="136.78" y="823.70" font-size="7.7" text-anchor="start" font-weight="normal" fill="#000" stroke="#000" stroke-width="0.15">4</text>
<line x1="119.68" y1="830.00" x2="119.68" y2="834.50" stroke="#000" stroke-width="1.3"/>
<text transform="translate(119.38,839.2) rotate(-45)" font-size="8.35" text-anchor="end" dy="5.8" fill="#000" stroke="#000" stroke-width="0.12">GI</text>
<line x1="165.36" y1="817.20" x2="165.36" y2="818.30" stroke="#000" stroke-width="1.3"/>
<line x1="165.36" y1="822.00" x2="165.36" y2="822.60" stroke="#000" stroke-width="1.3"/>
<rect x="150.46" y="818.30" width="29.80" height="3.70" fill="#e48d14"/>
<line x1="150.46" y1="820.80" x2="180.26" y2="820.80" stroke="#000" stroke-width="1.8"/>
<line x1="165.36" y1="817.80" x2="165.36" y2="822.60" stroke="#333" stroke-width="0.9"/>
<rect x="164.36" y="762.75" width="2.00" height="1.40" fill="#000"/>
<rect x="164.36" y="792.05" width="2.00" height="1.40" fill="#000"/>
<rect x="164.36" y="793.55" width="2.00" height="1.40" fill="#000"/>
<rect x="164.36" y="804.05" width="2.00" height="1.40" fill="#000"/>
<rect x="164.36" y="671.35" width="2.00" height="1.40" fill="#000"/>
<text x="182.46" y="823.50" font-size="7.7" text-anchor="start" font-weight="normal" fill="#000" stroke="#000" stroke-width="0.15">5</text>
<line x1="165.36" y1="830.00" x2="165.36" y2="834.50" stroke="#000" stroke-width="1.3"/>
<text transform="translate(165.06,839.2) rotate(-45)" font-size="8.35" text-anchor="end" dy="5.8" fill="#000" stroke="#000" stroke-width="0.12">Neuro</text>
<line x1="211.04" y1="816.00" x2="211.04" y2="818.00" stroke="#000" stroke-width="1.3"/>
<rect x="196.14" y="818.00" width="29.80" height="3.30" fill="#ecc850"/>
<line x1="196.14" y1="819.70" x2="225.94" y2="819.70" stroke="#000" stroke-width="1.8"/>
<rect x="210.04" y="793.85" width="2.00" height="1.40" fill="#000"/>
<rect x="210.19" y="804.00" width="1.70" height="4.90" fill="#000"/>
<rect x="210.19" y="811.20" width="1.70" height="3.40" fill="#000"/>
<text x="228.14" y="822.40" font-size="7.7" text-anchor="start" font-weight="normal" fill="#000" stroke="#000" stroke-width="0.15">7</text>
<line x1="211.04" y1="830.00" x2="211.04" y2="834.50" stroke="#000" stroke-width="1.3"/>
<text transform="translate(210.74,839.2) rotate(-45)" font-size="8.35" text-anchor="end" dy="5.8" fill="#000" stroke="#000" stroke-width="0.12">Infection</text>
<line x1="256.72" y1="807.90" x2="256.72" y2="816.00" stroke="#000" stroke-width="1.3"/>
<rect x="241.82" y="816.00" width="29.80" height="6.40" fill="#c9006f"/>
<line x1="241.82" y1="819.60" x2="271.62" y2="819.60" stroke="#000" stroke-width="1.8"/>
<rect x="255.72" y="771.05" width="2.00" height="1.40" fill="#000"/>
<rect x="255.72" y="776.65" width="2.00" height="1.40" fill="#000"/>
<rect x="255.72" y="783.75" width="2.00" height="1.40" fill="#000"/>
<rect x="255.87" y="797.90" width="1.70" height="1.40" fill="#000"/>
<rect x="255.87" y="800.40" width="1.70" height="1.40" fill="#000"/>
<rect x="255.87" y="803.70" width="1.70" height="3.00" fill="#000"/>
<text x="273.82" y="822.30" font-size="7.7" text-anchor="start" font-weight="normal" fill="#000" stroke="#000" stroke-width="0.15">7</text>
<line x1="256.72" y1="830.00" x2="256.72" y2="834.50" stroke="#000" stroke-width="1.3"/>
<text transform="translate(256.42,839.2) rotate(-45)" font-size="8.35" text-anchor="end" dy="5.8" fill="#000" stroke="#000" stroke-width="0.12">Metabolic</text>
<line x1="302.40" y1="815.00" x2="302.40" y2="817.80" stroke="#000" stroke-width="1.3"/>
<line x1="302.40" y1="820.80" x2="302.40" y2="822.10" stroke="#000" stroke-width="1.3"/>
<rect x="287.50" y="817.80" width="29.80" height="3.00" fill="#1d3a6e"/>
<line x1="287.50" y1="819.80" x2="317.30" y2="819.80" stroke="#000" stroke-width="1.8"/>
<line x1="302.40" y1="817.30" x2="302.40" y2="821.40" stroke="#333" stroke-width="0.9"/>
<rect x="301.40" y="724.95" width="2.00" height="1.40" fill="#000"/>
<rect x="301.40" y="803.05" width="2.00" height="1.40" fill="#000"/>
<rect x="301.40" y="811.05" width="2.00" height="1.40" fill="#000"/>
<text x="319.50" y="822.50" font-size="7.7" text-anchor="start" font-weight="normal" fill="#000" stroke="#000" stroke-width="0.15">7</text>
<line x1="302.40" y1="830.00" x2="302.40" y2="834.50" stroke="#000" stroke-width="1.3"/>
<text transform="translate(302.10,839.2) rotate(-45)" font-size="8.35" text-anchor="end" dy="5.8" fill="#000" stroke="#000" stroke-width="0.12">Pulmonary</text>
<line x1="348.08" y1="805.40" x2="348.08" y2="814.00" stroke="#000" stroke-width="1.3"/>
<line x1="348.08" y1="820.80" x2="348.08" y2="822.00" stroke="#000" stroke-width="1.3"/>
<rect x="333.18" y="814.00" width="29.80" height="6.80" fill="#c8c8c8"/>
<line x1="333.18" y1="817.90" x2="362.98" y2="817.90" stroke="#000" stroke-width="1.8"/>
<rect x="347.08" y="715.55" width="2.00" height="1.40" fill="#000"/>
<rect x="347.08" y="793.35" width="2.00" height="1.40" fill="#000"/>
<text x="365.18" y="820.60" font-size="7.7" text-anchor="start" font-weight="normal" fill="#000" stroke="#000" stroke-width="0.15">12</text>
<line x1="348.08" y1="830.00" x2="348.08" y2="834.50" stroke="#000" stroke-width="1.3"/>
<text transform="translate(347.78,839.2) rotate(-45)" font-size="8.35" text-anchor="end" dy="5.8" fill="#000" stroke="#000" stroke-width="0.12">Hepatic</text>
<line x1="393.76" y1="730.00" x2="393.76" y2="778.70" stroke="#000" stroke-width="1.3"/>
<line x1="393.76" y1="816.50" x2="393.76" y2="821.60" stroke="#000" stroke-width="1.3"/>
<rect x="378.86" y="778.70" width="29.80" height="37.80" fill="#522560"/>
<line x1="378.86" y1="806.10" x2="408.66" y2="806.10" stroke="#000" stroke-width="1.8"/>
<rect x="392.76" y="671.75" width="2.00" height="1.40" fill="#000"/>
<rect x="392.76" y="696.35" width="2.00" height="1.40" fill="#000"/>
<rect x="392.76" y="709.55" width="2.00" height="1.40" fill="#000"/>
<rect x="392.76" y="721.25" width="2.00" height="1.40" fill="#000"/>
<text x="410.86" y="808.80" font-size="7.7" text-anchor="start" font-weight="normal" fill="#000" stroke="#000" stroke-width="0.15">40</text>
<line x1="393.76" y1="830.00" x2="393.76" y2="834.50" stroke="#000" stroke-width="1.3"/>
<text transform="translate(393.46,839.2) rotate(-45)" font-size="8.35" text-anchor="end" dy="5.8" fill="#000" stroke="#000" stroke-width="0.12">Leukopenia</text>
<line x1="439.44" y1="745.40" x2="439.44" y2="782.90" stroke="#000" stroke-width="1.3"/>
<line x1="439.44" y1="810.60" x2="439.44" y2="819.20" stroke="#000" stroke-width="1.3"/>
<rect x="424.54" y="782.90" width="29.80" height="27.70" fill="#6aaadf"/>
<line x1="424.54" y1="797.50" x2="454.34" y2="797.50" stroke="#000" stroke-width="1.8"/>
<text x="456.54" y="800.20" font-size="7.7" text-anchor="start" font-weight="normal" fill="#000" stroke="#000" stroke-width="0.15">61</text>
<line x1="439.44" y1="830.00" x2="439.44" y2="834.50" stroke="#000" stroke-width="1.3"/>
<text transform="translate(439.14,839.2) rotate(-45)" font-size="8.35" text-anchor="end" dy="5.8" fill="#000" stroke="#000" stroke-width="0.12">Thrombocytopenia</text>
<line x1="485.12" y1="695.20" x2="485.12" y2="761.40" stroke="#000" stroke-width="1.3"/>
<line x1="485.12" y1="809.00" x2="485.12" y2="820.80" stroke="#000" stroke-width="1.3"/>
<rect x="470.22" y="761.40" width="29.80" height="47.60" fill="#8b80bd"/>
<line x1="470.22" y1="786.20" x2="500.02" y2="786.20" stroke="#000" stroke-width="1.8"/>
<text x="502.22" y="788.90" font-size="7.7" text-anchor="start" font-weight="normal" fill="#000" stroke="#000" stroke-width="0.15">88</text>
<line x1="485.12" y1="830.00" x2="485.12" y2="834.50" stroke="#000" stroke-width="1.3"/>
<text transform="translate(484.82,839.2) rotate(-45)" font-size="8.35" text-anchor="end" dy="5.8" fill="#000" stroke="#000" stroke-width="0.12">Anemia</text>
<rect x="0" y="0" width="520" height="1.5" fill="#000"/><rect x="0" y="917.5" width="520" height="1.5" fill="#000"/><rect x="0" y="0" width="1.5" height="919" fill="#000"/><rect x="518.5" y="0" width="1.5" height="919" fill="#000"/>
</svg>
</body></html>
